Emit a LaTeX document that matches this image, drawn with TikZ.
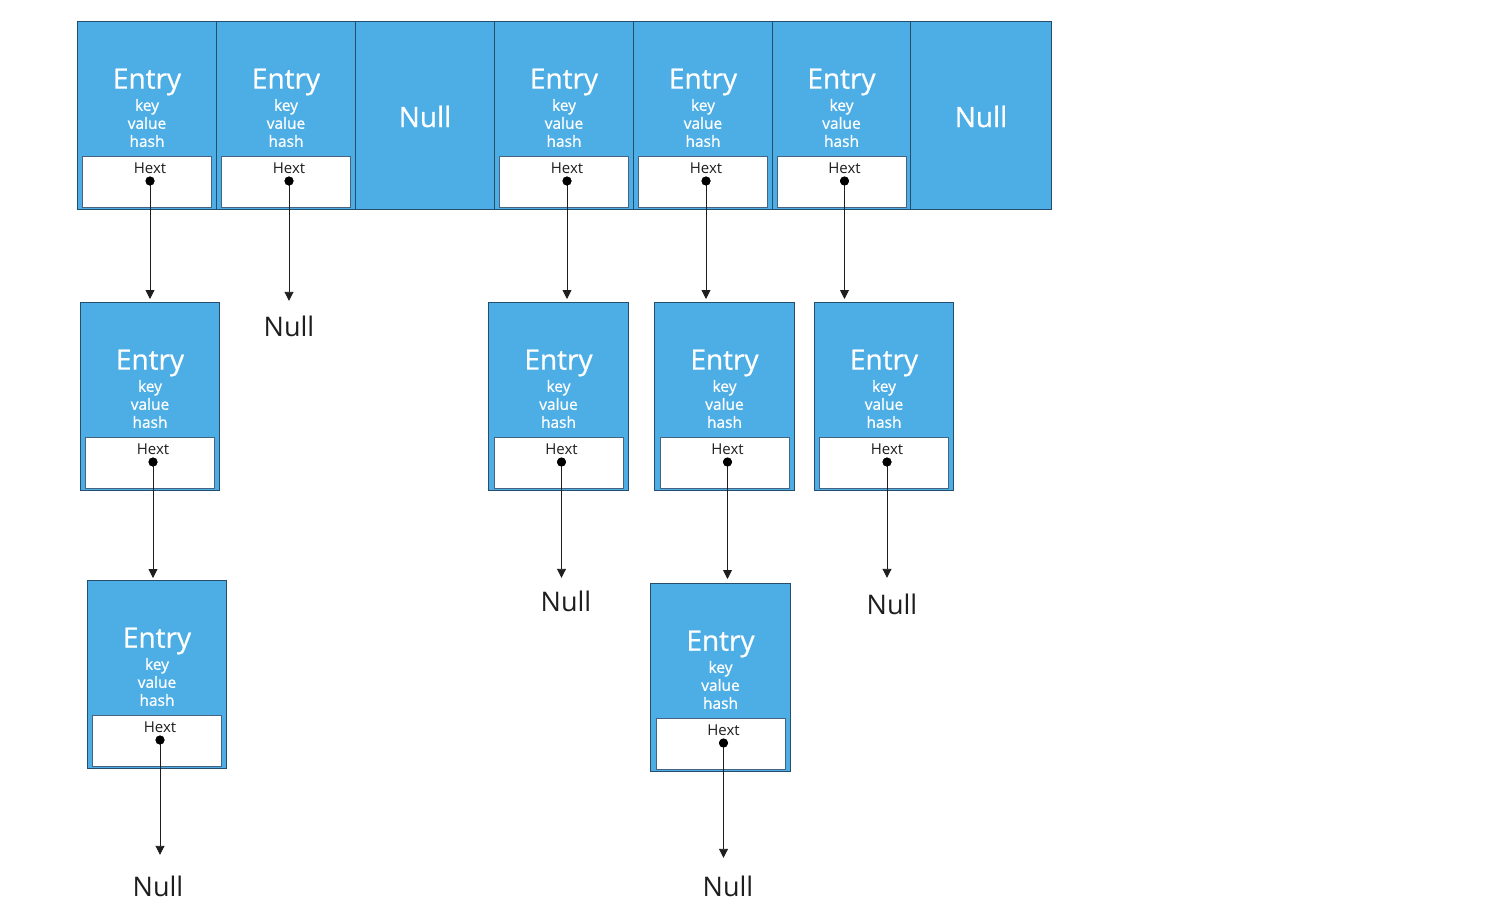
\documentclass[tikz,border=0pt]{standalone}
\usepackage{fontspec}
\setmainfont{Open Sans}
\newfontfamily\heavyfont[FakeBold=0.8]{Open Sans}
\usetikzlibrary{arrows.meta,calc}
\definecolor{cellblue}{RGB}{77,174,230}
\definecolor{celledge}{RGB}{38,78,108}
\definecolor{hextedge}{RGB}{70,100,130}
\definecolor{inkgray}{RGB}{30,30,30}
\tikzset{
  cellbox/.style={draw=celledge, line width=1pt, fill=cellblue, minimum width=139pt, minimum height=188pt, inner sep=0pt},
  titletext/.style={text=white, font=\heavyfont\fontsize{28}{30}\selectfont, inner sep=0pt},
  fieldtext/.style={text=white, font=\heavyfont\fontsize{15.5}{18}\selectfont, align=center, inner sep=0pt},
  hextbox/.style={draw=hextedge, line width=1pt, fill=white, minimum width=129pt, minimum height=51pt, inner sep=0pt},
  hextlabel/.style={text=inkgray, font=\fontsize{15}{17}\selectfont, inner sep=0pt},
  nullcell/.style={text=white, font=\heavyfont\fontsize{28}{30}\selectfont, inner sep=0pt},
  nullbelow/.style={text=inkgray, font=\fontsize{27}{30}\selectfont, inner sep=0pt, text height=20pt, text depth=0pt},
  arr/.style={draw=inkgray, line width=0.9pt, -{Triangle[width=9pt,length=9pt]}},
  dotmark/.style={fill=black}
}
\newcommand\mkentry[4]{% name, x, y, width
  \node[cellbox, minimum width=#4pt, anchor=north west] (#1) at (#2,#3) {};
  \node[titletext] (#1-t) at ([yshift=-61pt]#1.north) {Entry};
  \node[fieldtext] (#1-f) at ([yshift=-102pt]#1.north) {key\\value\\hash};
  \node[hextbox, anchor=north] (#1-h) at ([yshift=-135pt]#1.north) {};
  \node[hextlabel] (#1-hl) at ([xshift=3pt,yshift=-147pt]#1.north) {Hext};
  \coordinate (#1-d) at ([xshift=3pt,yshift=-160pt]#1.north);
  \fill[dotmark] (#1-d) circle (4.5pt);
}
\begin{document}
\begin{tikzpicture}[x=1pt,y=-1pt]
\useasboundingbox (0,0) rectangle (1500,905);
\fill[white] (0,0) rectangle (1500,905);
% top row
\mkentry{c1}{77}{21}{139}
\mkentry{c2}{216}{21}{139}
\node[cellbox, anchor=north west] (c3) at (355,21) {};
\node[nullcell] (c3-n) at ([yshift=-1pt]c3.center) {Null};
\mkentry{c4}{494}{21}{139}
\mkentry{c5}{633}{21}{139}
\mkentry{c6}{772}{21}{138}
\node[cellbox, minimum width=141pt, anchor=north west] (c7) at (910,21) {};
\node[nullcell] (c7-n) at ([yshift=-1pt]c7.center) {Null};
% second row
\mkentry{a2}{80}{302}{139}
\node[nullbelow] (b2) at (289,326) {Null};
\mkentry{d2}{488}{302}{140}
\mkentry{e2}{654}{302}{140}
\mkentry{f2}{814}{302}{139}
% third row
\mkentry{a3}{87}{580}{139}
\node[nullbelow] (d3) at (566,601) {Null};
\mkentry{e3}{650}{583}{140}
\node[nullbelow] (f3) at (892,604) {Null};
% fourth row
\node[nullbelow] (a4) at (158,886) {Null};
\node[nullbelow] (e4) at (728,886) {Null};
% arrows
\draw[arr, shorten >=3pt] (c1-d) -- (c1-d |- a2.north);
\draw[arr, shorten >=15pt] (c2-d) -- (c2-d |- b2.north);
\draw[arr, shorten >=3pt] (c4-d) -- (c4-d |- d2.north);
\draw[arr, shorten >=3pt] (c5-d) -- (c5-d |- e2.north);
\draw[arr, shorten >=3pt] (c6-d) -- (c6-d |- f2.north);
\draw[arr, shorten >=2pt] (a2-d) -- (a2-d |- a3.north);
\draw[arr, shorten >=13pt] (d2-d) -- (d2-d |- d3.north);
\draw[arr, shorten >=4pt] (e2-d) -- (e2-d |- e3.north);
\draw[arr, shorten >=16pt] (f2-d) -- (f2-d |- f3.north);
\draw[arr, shorten >=21pt] (a3-d) -- (a3-d |- a4.north);
\draw[arr, shorten >=18pt] (e3-d) -- (e3-d |- e4.north);
% redraw dots on top
\foreach \d in {c1-d,c2-d,c4-d,c5-d,c6-d,a2-d,d2-d,e2-d,f2-d,a3-d,e3-d}
  \fill[dotmark] (\d) circle (4.5pt);
\end{tikzpicture}
\end{document}
